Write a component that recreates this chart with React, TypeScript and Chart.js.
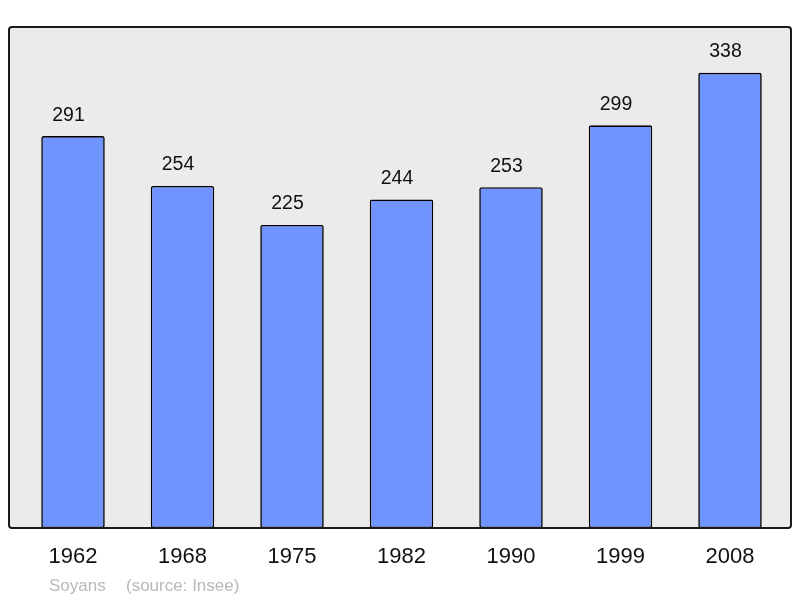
import React, { useEffect, useRef } from "react";
import { Chart, registerables } from "chart.js";

Chart.register(...registerables);

const years = ["1962", "1968", "1975", "1982", "1990", "1999", "2008"];
const population = [291, 254, 225, 244, 253, 299, 338];
const footerName = "Soyans";
const footerSource = "(source: Insee)";

const FONT = '"Liberation Sans", Arial, sans-serif';

const framePlugin = {
  id: "frame",
  beforeDatasetsDraw(chart: any) {
    const { ctx, chartArea } = chart;
    const l = chartArea.left - 9.25;
    const r = chartArea.right + 6.25;
    const t = chartArea.top;
    const b = chartArea.bottom;
    ctx.save();
    ctx.beginPath();
    ctx.roundRect(l, t, r - l, b - t, 3);
    ctx.fillStyle = "#ebebeb";
    ctx.fill();
    ctx.restore();
  },
  afterDatasetsDraw(chart: any) {
    const { ctx, chartArea } = chart;
    const l = chartArea.left - 9.25;
    const r = chartArea.right + 6.25;
    const t = chartArea.top;
    const b = chartArea.bottom;
    ctx.save();
    ctx.beginPath();
    ctx.roundRect(l, t, r - l, b - t, 3);
    ctx.lineWidth = 2;
    ctx.strokeStyle = "#1a1a1a";
    ctx.stroke();
    // value labels
    const meta = chart.getDatasetMeta(0);
    ctx.fillStyle = "#111";
    ctx.font = `19.5px ${FONT}`;
    ctx.textAlign = "center";
    ctx.textBaseline = "alphabetic";
    meta.data.forEach((bar: any, i: number) => {
      ctx.fillText(String(chart.data.datasets[0].data[i]), bar.x - 4.5, bar.y - 15.5);
    });
    // footer
    ctx.fillStyle = "#b8b8b8";
    ctx.font = `17px ${FONT}`;
    ctx.textAlign = "left";
    ctx.fillText(footerName, 49, 591);
    ctx.fillText(footerSource, 126, 591);
    ctx.restore();
  },
};

export default function App() {
  const ref = useRef<HTMLCanvasElement>(null);
  useEffect(() => {
    document.body.style.margin = "0";
    const chart = new Chart(ref.current!, {
      type: "bar",
      data: {
        labels: years,
        datasets: [
          {
            data: population,
            backgroundColor: "#7094ff",
            borderColor: "#000",
            borderWidth: 1.6,
            borderRadius: 2,
            borderSkipped: false,
            barPercentage: 0.58,
            categoryPercentage: 1,
          },
        ],
      },
      options: {
        responsive: false,
        animation: false,
        devicePixelRatio: 1,
        layout: { padding: { left: 18.25, right: 15.25, top: 27, bottom: 0 } },
        plugins: { legend: { display: false }, tooltip: { enabled: false } },
        scales: {
          x: {
            grid: { display: false },
            border: { display: false },
            ticks: {
              color: "#111",
              font: { size: 22, family: FONT },
              padding: 8,
              maxRotation: 0,
            },
            afterFit: (scale: any) => {
              scale.height = 70;
            },
          },
          y: {
            display: false,
            min: 0,
            max: 372,
          },
        },
      },
      plugins: [framePlugin],
    });
    return () => chart.destroy();
  }, []);
  return (
    <div style={{ width: 800, height: 598 }}>
      <canvas ref={ref} width={800} height={598} />
    </div>
  );
}
